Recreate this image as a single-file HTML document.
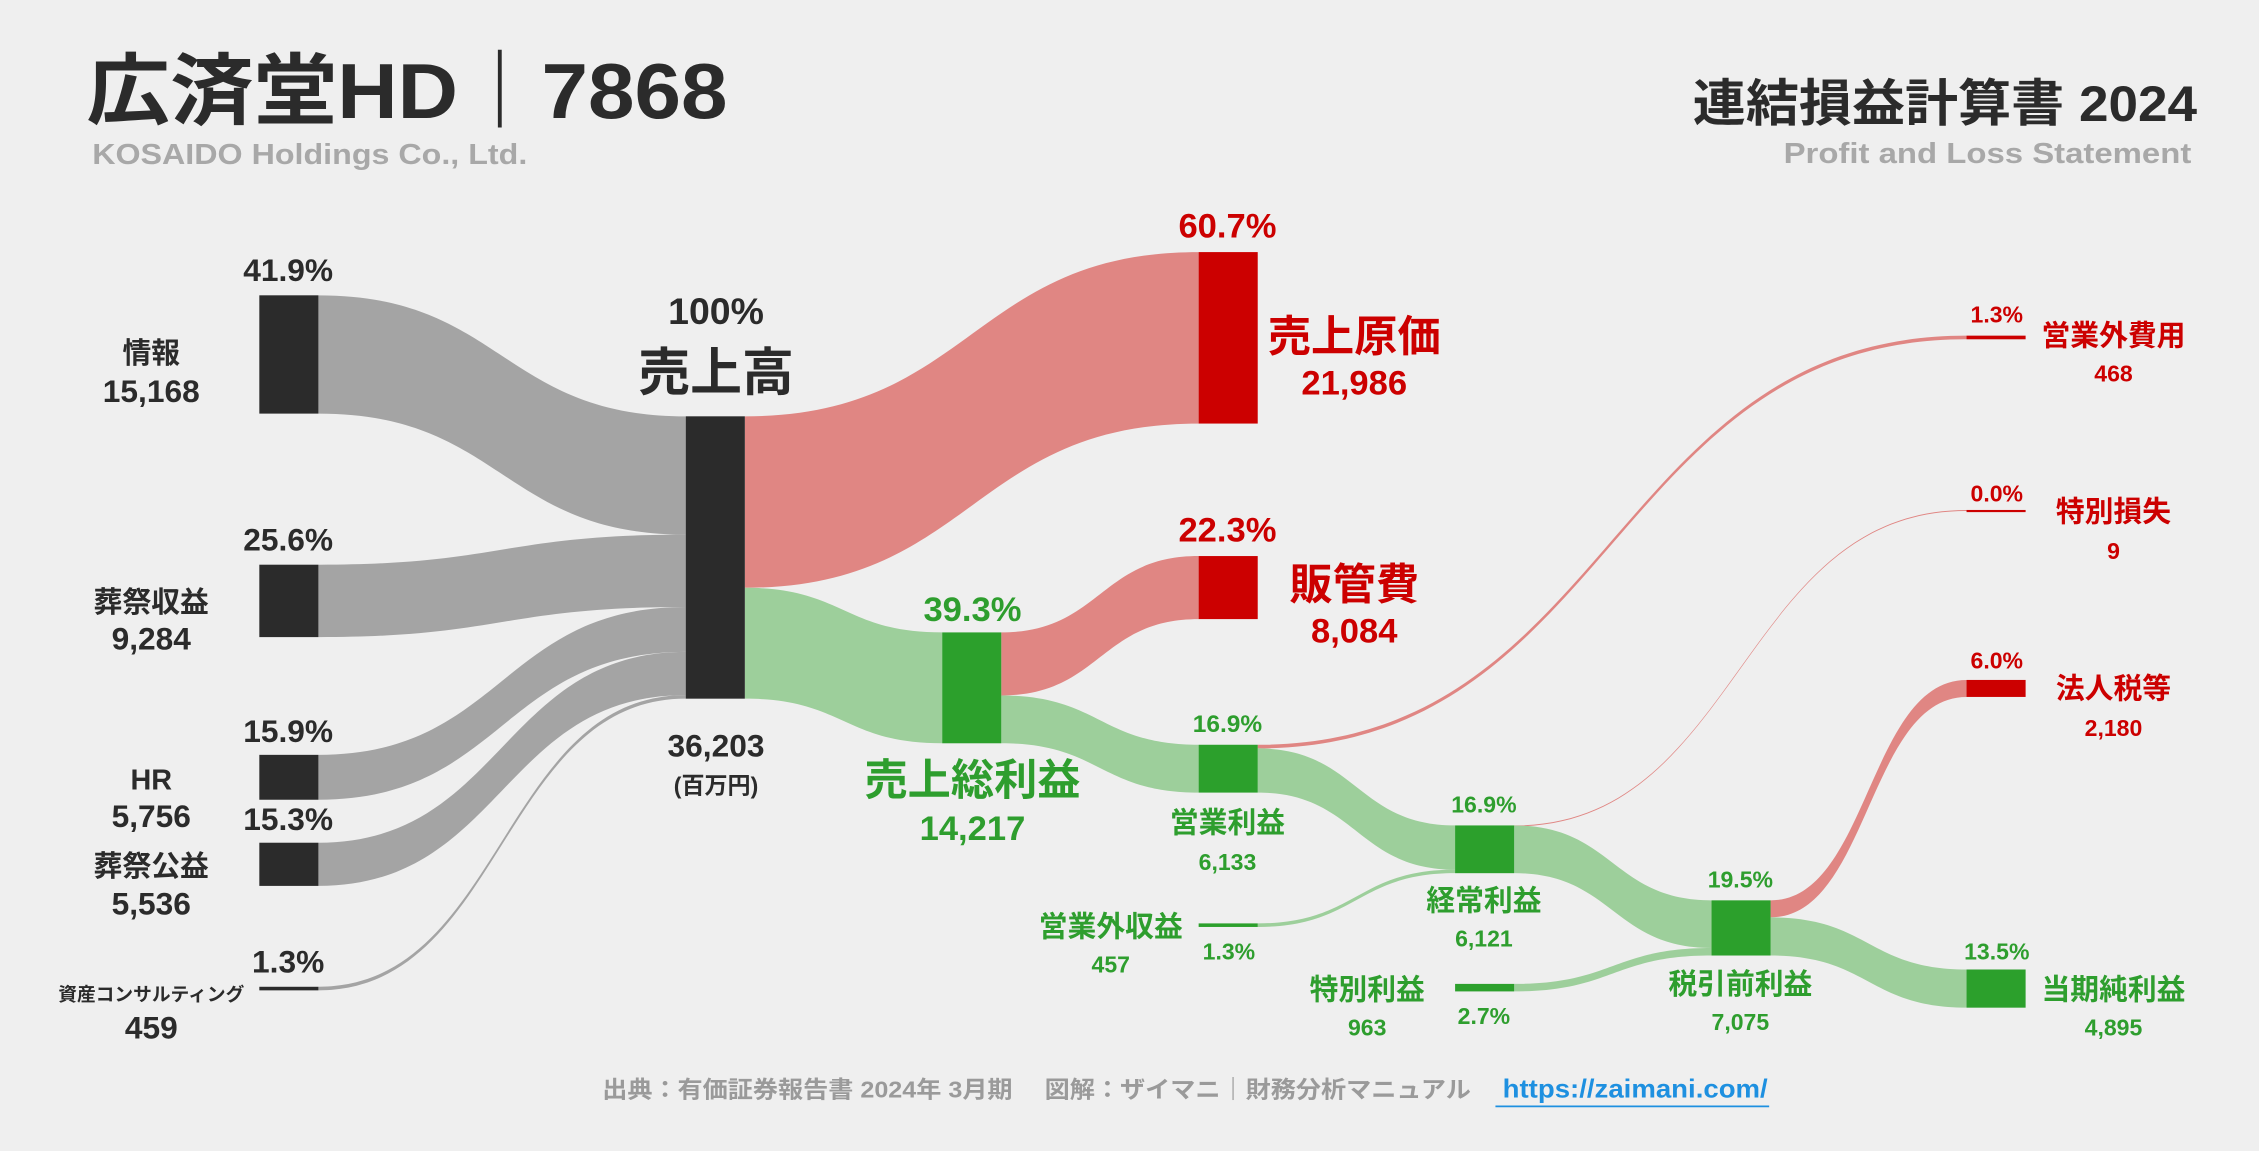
<!DOCTYPE html>
<html><head><meta charset="utf-8">
<style>
html,body{margin:0;padding:0;background:#efefef;}
svg{display:block;font-family:"Liberation Sans","Noto Sans CJK JP",sans-serif;font-weight:bold;}
</style></head>
<body>
<svg id="chart" width="2259" height="1151" viewBox="0 0 1568 799" preserveAspectRatio="none" xmlns="http://www.w3.org/2000/svg">
<rect width="1568" height="799" fill="#efefef"/>
<g id="flows"></g>
<g id="nodes"></g>
<g>
<text x="60" y="82" font-size="54" fill="#2b2b2b" textLength="445" lengthAdjust="spacingAndGlyphs">広済堂HD｜7868</text>
<text x="64" y="114" font-size="20" fill="#a8a8a8" textLength="302" lengthAdjust="spacingAndGlyphs">KOSAIDO Holdings Co., Ltd.</text>
<text x="1175" y="84" font-size="35" fill="#2b2b2b" textLength="350" lengthAdjust="spacingAndGlyphs">連結損益計算書 2024</text>
<text x="1238" y="113" font-size="20" fill="#a8a8a8" textLength="283" lengthAdjust="spacingAndGlyphs">Profit and Loss Statement</text>
</g>
<g id="labels"></g>
<g>
<text x="418" y="762" font-size="16" fill="#9a9a9a" textLength="603" lengthAdjust="spacingAndGlyphs">出典：有価証券報告書 2024年 3月期　 図解：ザイマニ｜財務分析マニュアル</text>
<text x="1043" y="762" font-size="18" fill="#1e90e0" textLength="184" lengthAdjust="spacingAndGlyphs">https://zaimani.com/</text>
<line x1="1038" y1="768" x2="1228" y2="768" stroke="#1e90e0" stroke-width="1.2"/>
</g>
</svg>
<script>
const NS="http://www.w3.org/2000/svg";
// data (百万円)
const segmentNames=["情報","葬祭収益","HR","葬祭公益","資産コンサルティング"];
const segmentValues=[15168,9284,5756,5536,459];
const segmentShares=["41.9%","25.6%","15.9%","15.3%","1.3%"];
const revenue=36203;
const costOfSales=21986;
const sga=8084;
const grossProfit=14217;
const operatingProfit=6133;
const nonOpExpense=468;
const nonOpIncome=457;
const ordinaryProfit=6121;
const extraLoss=9;
const extraGain=963;
const preTaxProfit=7075;
const incomeTax=2180;
const netProfit=4895;

const k=196/revenue; // px per unit
const h=v=>v*k;
const W=41;
const C={gray:"#a4a4a4",dark:"#2b2b2b",rflow:"#e08683",red:"#cc0000",gflow:"#9dcf9b",green:"#2ca02c",gtext:"#2e9e2e"};
const flowsG=document.getElementById('flows'),nodesG=document.getElementById('nodes'),labG=document.getElementById('labels');

function node(x,y,v,color,name){
  const r=document.createElementNS(NS,'rect');
  r.setAttribute('x',x);r.setAttribute('y',y);r.setAttribute('width',W);r.setAttribute('height',Math.max(h(v),1.5));
  r.setAttribute('fill',color);
  
  
  nodesG.appendChild(r);
  return {x:x,y:y,out:y,inn:y};
}
function flow(a,b,v,color,name){
  const t=Math.max(h(v),0.7);
  const x1=a.x+W,x2=b.x,y1=a.out,y2=b.inn;
  a.out+=h(v);b.inn+=h(v);
  const mx=(x1+x2)/2;
  const p=document.createElementNS(NS,'path');
  p.setAttribute('d',`M${x1},${y1} C${mx},${y1} ${mx},${y2} ${x2},${y2} L${x2},${y2+t} C${mx},${y2+t} ${mx},${y1+t} ${x1},${y1+t} Z`);
  p.setAttribute('fill',color);
  
  
  flowsG.appendChild(p);
}
function label(x,y,txt,size,color,name,anchor){
  const t=document.createElementNS(NS,'text');
  t.setAttribute('x',x);t.setAttribute('y',y);t.setAttribute('font-size',size);t.setAttribute('fill',color);
  t.setAttribute('text-anchor',anchor||'middle');t.textContent=txt;
  
  
  labG.appendChild(t);
}
const fmt=v=>v.toLocaleString('en-US');

const segY=[205,392,524,585,685];
const rev=node(476,289,revenue,C.dark,'revenue-node');
const segNodes=segmentValues.map((v,i)=>node(180,segY[i],v,C.dark,'segment-node-'+i));
segNodes.forEach((n,i)=>flow(n,rev,segmentValues[i],C.gray,'segment-flow-'+i));

const cos=node(832,175,costOfSales,C.red,'cost-of-sales-node');
const gp=node(654,439,grossProfit,C.green,'gross-profit-node');
flow(rev,cos,costOfSales,C.rflow,'cost-of-sales-flow');
flow(rev,gp,grossProfit,C.gflow,'gross-profit-flow');
const sg=node(832,386,sga,C.red,'sga-node');
const op=node(832,517,operatingProfit,C.green,'operating-profit-node');
flow(gp,sg,sga,C.rflow,'sga-flow');
flow(gp,op,operatingProfit,C.gflow,'operating-profit-flow');
const noe=node(1365,233,nonOpExpense,C.red,'non-op-expense-node');
const ord=node(1010,573,ordinaryProfit,C.green,'ordinary-profit-node');
const noi=node(832,641,nonOpIncome,C.green,'non-op-income-node');
flow(op,noe,nonOpExpense,C.rflow,'non-op-expense-flow');
flow(op,ord,operatingProfit-nonOpExpense,C.gflow,'op-to-ordinary-flow');
flow(noi,ord,nonOpIncome,C.gflow,'non-op-income-flow');
const xl=node(1365,354,extraLoss,C.red,'extra-loss-node');
const pt=node(1188,625,preTaxProfit,C.green,'pretax-profit-node');
const xg=node(1010,683,extraGain,C.green,'extra-gain-node');
flow(ord,xl,extraLoss,C.rflow,'extra-loss-flow');
flow(ord,pt,ordinaryProfit-extraLoss,C.gflow,'ordinary-to-pretax-flow');
flow(xg,pt,extraGain,C.gflow,'extra-gain-flow');
const tax=node(1365,472,incomeTax,C.red,'income-tax-node');
const np=node(1365,673,netProfit,C.green,'net-profit-node');
flow(pt,tax,incomeTax,C.rflow,'income-tax-flow');
flow(pt,np,netProfit,C.gflow,'net-profit-flow');

const segLabY=[[187,245,271],[374,418,443],[507,541,566],[568,601,627],[667,688,713]];
segmentNames.forEach((n,i)=>{
  const [a,b,c]=segLabY[i];
  label(200,a+8,segmentShares[i],22,"#2b2b2b",'segment-share-'+i);
  label(105,b+7,n,i==4?13:20,"#2b2b2b",'segment-name-'+i);
  label(105,c+8,fmt(segmentValues[i]),22,"#2b2b2b",'segment-value-'+i);
});
label(497,225,"100%",26,"#2b2b2b",'revenue-share');
label(497,271,"売上高",36,"#2b2b2b",'revenue-name');
label(497,525,fmt(revenue),22,"#2b2b2b",'revenue-value');
label(497,551,"(百万円)",16,"#2b2b2b",'unit-label');

label(852,165,"60.7%",24,C.red,'cos-share');
label(940,244,"売上原価",30,C.red,'cos-name');
label(940,274,fmt(costOfSales),24,C.red,'cos-value');
label(852,376,"22.3%",24,C.red,'sga-share');
label(940,416,"販管費",30,C.red,'sga-name');
label(940,446,fmt(sga),24,C.red,'sga-value');
label(675,431,"39.3%",24,C.gtext,'gp-share');
label(675,552,"売上総利益",30,C.gtext,'gp-name');
label(675,583,fmt(grossProfit),24,C.gtext,'gp-value');
label(852,508,"16.9%",17,C.gtext,'op-share');
label(852,578,"営業利益",20,C.gtext,'op-name');
label(852,604,fmt(operatingProfit),16,C.gtext,'op-value');
label(1386,224,"1.3%",16,C.red,'noe-share');
label(1467,240,"営業外費用",20,C.red,'noe-name');
label(1467,265,fmt(nonOpExpense),16,C.red,'noe-value');
label(1386,348,"0.0%",16,C.red,'xl-share');
label(1467,362,"特別損失",20,C.red,'xl-name');
label(1467,388,fmt(extraLoss),16,C.red,'xl-value');
label(1386,464,"6.0%",16,C.red,'tax-share');
label(1467,485,"法人税等",20,C.red,'tax-name');
label(1467,511,fmt(incomeTax),16,C.red,'tax-value');
label(1386,666,"13.5%",16,C.gtext,'np-share');
label(1467,694,"当期純利益",20,C.gtext,'np-name');
label(1467,719,fmt(netProfit),16,C.gtext,'np-value');
label(1030,564,"16.9%",16,C.gtext,'ord-share');
label(1030,632,"経常利益",20,C.gtext,'ord-name');
label(1030,657,fmt(ordinaryProfit),16,C.gtext,'ord-value');
label(771,650,"営業外収益",20,C.gtext,'noi-name');
label(771,675,fmt(nonOpIncome),16,C.gtext,'noi-value');
label(853,666,"1.3%",16,C.gtext,'noi-share');
label(949,694,"特別利益",20,C.gtext,'xg-name');
label(949,719,fmt(extraGain),16,C.gtext,'xg-value');
label(1030,711,"2.7%",16,C.gtext,'xg-share');
label(1208,616,"19.5%",16,C.gtext,'pt-share');
label(1208,690,"税引前利益",20,C.gtext,'pt-name');
label(1208,715,fmt(preTaxProfit),16,C.gtext,'pt-value');
</script>
</body></html>
